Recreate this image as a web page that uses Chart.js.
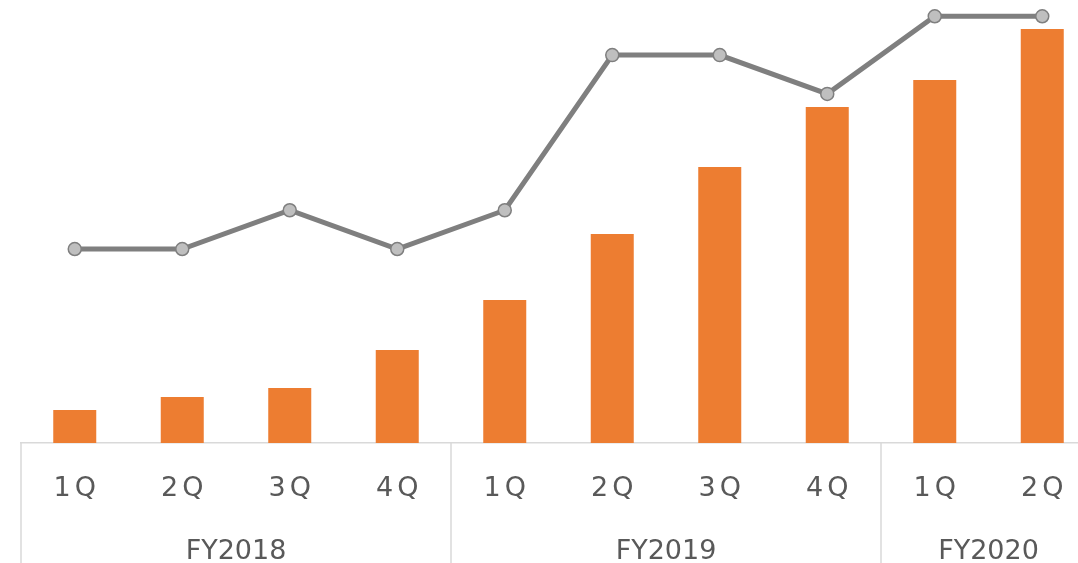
<!DOCTYPE html>
<html>
<head>
<meta charset="utf-8">
<script src="https://cdn.jsdelivr.net/npm/chart.js@4.4.1/dist/chart.umd.min.js"></script>
<style>
  html, body { margin: 0; padding: 0; background: #ffffff; overflow: hidden; }
  #wrap { position: relative; width: 1078px; height: 563px; overflow: hidden; }
  canvas { display: block; }
</style>
</head>
<body>
<div id="wrap"><canvas id="c" width="1100" height="563"></canvas></div>
<script>
// ---- Data ----
const quarters = ['1Q', '2Q', '3Q', '4Q', '1Q', '2Q', '3Q', '4Q', '1Q', '2Q'];
const fiscalYears = ['FY2018', 'FY2019', 'FY2020'];
const quartersPerYear = [4, 4, 2];
const barValues = [33, 46, 55, 93, 143, 209, 276, 336, 363, 414];
const lineValues = [5, 5, 6, 5, 6, 10, 10, 9, 11, 11];

const labelColor = '#595959';
const axisColor = '#D9D9D9';
const labelFont = '27px "DejaVu Sans", Verdana, sans-serif';

const groupLabelsPlugin = {
  id: 'groupLabels',
  afterDraw(chart) {
    const ctx = chart.ctx;
    const x = chart.scales.x;
    const area = chart.chartArea;
    const step = x.getPixelForValue(1) - x.getPixelForValue(0);
    ctx.save();
    // quarter labels
    ctx.font = labelFont;
    ctx.fillStyle = labelColor;
    ctx.textAlign = 'center';
    ctx.textBaseline = 'middle';
    const spacing = 4;
    ctx.letterSpacing = spacing + 'px';
    quarters.forEach((q, i) => {
      ctx.fillText(q, x.getPixelForValue(i) + spacing / 2, area.bottom + 46);
    });
    ctx.letterSpacing = '0px';
    // group labels and separators
    let start = 0;
    ctx.strokeStyle = axisColor;
    ctx.lineWidth = 1.5;
    fiscalYears.forEach((fy, g) => {
      const n = quartersPerYear[g];
      const first = x.getPixelForValue(start);
      const last = x.getPixelForValue(start + n - 1);
      const left = Math.round(first - step / 2);
      ctx.beginPath();
      ctx.moveTo(left, area.bottom);
      ctx.lineTo(left, chart.height);
      ctx.stroke();
      ctx.fillText(fy, (first + last) / 2, area.bottom + 109);
      start += n;
    });
    ctx.restore();
  }
};

new Chart(document.getElementById('c'), {
  data: {
    labels: quarters,
    datasets: [
      {
        type: 'line',
        data: lineValues,
        yAxisID: 'y2',
        order: 0,
        borderColor: '#7F7F7F',
        borderWidth: 5,
        pointRadius: 6.5,
        pointBorderWidth: 1.5,
        pointBackgroundColor: '#BFBFBF',
        pointBorderColor: '#7F7F7F',
        tension: 0,
        clip: false
      },
      {
        type: 'bar',
        data: barValues,
        yAxisID: 'y',
        order: 1,
        backgroundColor: '#ED7D31',
        borderWidth: 0,
        categoryPercentage: 1,
        barPercentage: 0.4
      }
    ]
  },
  options: {
    responsive: false,
    animation: false,
    devicePixelRatio: 1,
    layout: { autoPadding: false, padding: { left: 21, right: 4, top: 0, bottom: 0 } },
    plugins: { legend: { display: false }, tooltip: { enabled: false } },
    scales: {
      x: {
        offset: true,
        grid: { display: false },
        border: { display: true, color: axisColor, width: 1.5 },
        ticks: { display: false },
        afterFit(s) { s.height = 120; }
      },
      y: { display: false, min: 0, max: 443 },
      y2: { display: false, min: 0, max: 11.42 }
    }
  },
  plugins: [groupLabelsPlugin]
});
</script>
</body>
</html>
